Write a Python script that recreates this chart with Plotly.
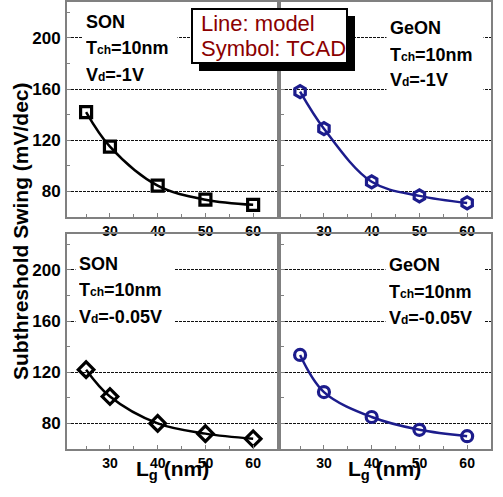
import plotly.graph_objects as go

W, H = 503, 497

# ---- data ----
lg = [25, 30, 40, 50, 60]
son_vd1 = [142, 115, 84.5, 73.5, 69.5]
geon_vd1 = [158, 129, 87.5, 76.5, 71]
son_vd005 = [122, 101, 80, 72, 68]
geon_vd005 = [133.5, 104.5, 85, 75, 70]

x_ticks = [30, 40, 50, 60]
y_ticks = [80, 120, 160, 200]

BLACK = "#000000"
NAVY = "#1c1c8c"
DARKRED = "#8b0000"
AXC = "#808080"
FONT = "Liberation Sans, Arial, sans-serif"


def px(x):
    return x / W


def py(y):
    return 1 - y / H


panels = [
    # (xaxis, yaxis, y-data, color, symbol, size, xdomain, ydomain, show y labels)
    ("x", "y", son_vd1, BLACK, "square-open", 11, (67, 277), (217, 2), True),
    ("x2", "y2", geon_vd1, NAVY, "hexagon-open", 12, (281, 491), (217, 2), False),
    ("x3", "y3", son_vd005, BLACK, "diamond-open", 12, (67, 277), (449, 234), True),
    ("x4", "y4", geon_vd005, NAVY, "circle-open", 11, (281, 491), (449, 234), False),
]

fig = go.Figure()
layout_axes = {}
for xa, ya, yv, col, sym, sz, xd, yd, showy in panels:
    # model line
    fig.add_trace(go.Scatter(x=lg, y=yv, mode="lines", line=dict(color=col, width=2.5, shape="spline", smoothing=1.0),
                             xaxis=xa, yaxis=ya, hoverinfo="skip"))
    # TCAD symbols
    fig.add_trace(go.Scatter(x=lg, y=yv, mode="markers",
                             marker=dict(symbol=sym, size=sz, color=col, line=dict(color=col, width=3.2)),
                             xaxis=xa, yaxis=ya))
    xkey = "xaxis" + xa[1:]
    ykey = "yaxis" + ya[1:]
    layout_axes[xkey] = dict(
        domain=[px(xd[0]), px(xd[1])], range=[21, 65], anchor=ya,
        tickmode="array", tickvals=x_ticks, ticktext=[str(v) for v in x_ticks],
        ticks="inside", ticklen=4, tickwidth=1, tickcolor=AXC,
        minor=dict(ticks="inside", ticklen=3, tickcolor=AXC, tickvals=[25, 35, 45, 55]),
        showline=True, linecolor=AXC, linewidth=2, mirror=True,
        showgrid=False, zeroline=False,
        tickfont=dict(family=FONT, size=14, color=BLACK, weight="bold"),
    )
    layout_axes[ykey] = dict(
        domain=[py(yd[0]), py(yd[1])], range=[60, 228], anchor=xa,
        tickmode="array", tickvals=y_ticks, ticktext=[str(v) for v in y_ticks],
        showticklabels=showy,
        ticks="inside", ticklen=4, tickwidth=1, tickcolor=AXC,
        minor=dict(ticks="inside", ticklen=3, tickcolor=AXC, tickvals=[100, 140, 180, 220]),
        showline=True, linecolor=AXC, linewidth=2, mirror=True,
        showgrid=True, gridcolor="#111111", gridwidth=1, griddash="3px,1px",
        zeroline=False, ticklabelstandoff=1,
        tickfont=dict(family=FONT, size=17, color=BLACK, weight="bold"),
    )

sub = "<span style='font-size:12px'>%s</span>"
labels = [
    (82, 88, [(22, "SON"), (48, "T" + sub % "ch" + "=10nm"), (75, "V" + sub % "d" + "=-1V")]),
    (386, 90, [(28, "GeON"), (55, "T" + sub % "ch" + "=10nm"), (80, "V" + sub % "d" + "=-1V")]),
    (75, 92, [(264, "SON"), (290, "T" + sub % "ch" + "=10nm"), (317, "V" + sub % "d" + "=-0.05V")]),
    (385, 92, [(265, "GeON"), (292, "T" + sub % "ch" + "=10nm"), (318, "V" + sub % "d" + "=-0.05V")]),
]
annotations = []
for xl, bw, lines in labels:
    for yc, txt in lines:
        annotations.append(dict(
            x=px(xl), y=py(yc), xref="paper", yref="paper", xanchor="left", yanchor="middle",
            text=txt, showarrow=False, bgcolor="white", borderpad=3, width=bw, align="left",
            font=dict(family=FONT, size=18, color=BLACK, weight="bold")))

# legend-like box text
annotations.append(dict(x=px(199), y=py(24), xref="paper", yref="paper", xanchor="left", yanchor="middle",
                        text="Line: model", showarrow=False,
                        font=dict(family=FONT, size=22, color=DARKRED)))
annotations.append(dict(x=px(199), y=py(49), xref="paper", yref="paper", xanchor="left", yanchor="middle",
                        text="Symbol: TCAD", showarrow=False,
                        font=dict(family=FONT, size=22, color=DARKRED)))

# axis titles
for xc in (172, 384):
    annotations.append(dict(x=px(xc), y=py(470), xref="paper", yref="paper", xanchor="center", yanchor="middle",
                            text="L<sub>g</sub> (nm)", showarrow=False,
                            font=dict(family=FONT, size=21, color=BLACK, weight="bold")))
annotations.append(dict(x=px(20), y=py(231), xref="paper", yref="paper", xanchor="center", yanchor="middle",
                        text="Subthreshold Swing (mV/dec)", textangle=-90, showarrow=False,
                        font=dict(family=FONT, size=21, color=BLACK, weight="bold")))

shapes = [
    dict(type="rect", xref="paper", yref="paper", x0=px(199), x1=px(355), y0=py(71), y1=py(16),
         fillcolor="black", line=dict(width=0), layer="above"),
    dict(type="rect", xref="paper", yref="paper", x0=px(192), x1=px(347), y0=py(63), y1=py(9),
         fillcolor="white", line=dict(color="black", width=2), layer="above"),
]

fig.update_layout(
    width=W, height=H, margin=dict(l=0, r=0, t=0, b=0),
    paper_bgcolor="white", plot_bgcolor="white", showlegend=False,
    annotations=annotations, shapes=shapes, **layout_axes,
)

fig.write_html("out.html")
